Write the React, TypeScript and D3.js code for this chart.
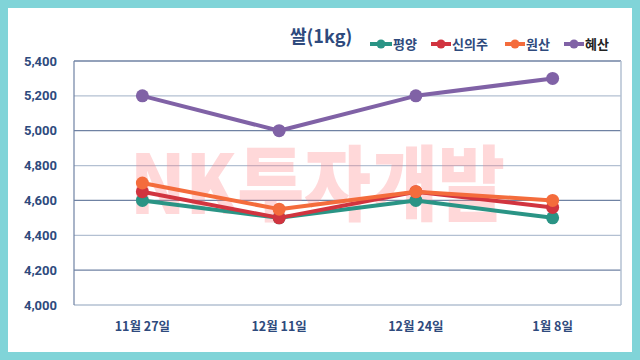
import React from "react";
import * as d3 from "d3";

const categories = ["11월 27일", "12월 11일", "12월 24일", "1월 8일"];
const seriesNames = ["평양", "신의주", "원산", "혜산"];
const pyongyang = [4600, 4500, 4600, 4500];
const sinuiju = [4650, 4500, 4650, 4560];
const wonsan = [4700, 4550, 4650, 4600];
const hyesan = [5200, 5000, 5200, 5300];
const yTicks = [4000, 4200, 4400, 4600, 4800, 5000, 5200, 5400];
const colors = ["#2a9485", "#d1343f", "#f46c3c", "#8062a6"];
const title = "쌀(1kg)";
const watermark = "NK투자개발";

const W = 640, H = 360;
const plot = { left: 74, right: 621, top: 61, bottom: 305 };
const FONT = "Roboto, 'Noto Sans CJK KR', sans-serif";
const KFONT = "'Noto Sans CJK KR', Roboto, sans-serif";

export default function App() {
  const x = d3.scaleBand<string>().domain(categories).range([plot.left, plot.right]);
  const y = d3.scaleLinear().domain([4000, 5400]).range([plot.bottom, plot.top]);
  const allSeries = [pyongyang, sinuiju, wonsan, hyesan];
  const line = d3.line<number>()
    .x((_, i) => (x(categories[i]) as number) + x.bandwidth() / 2)
    .y((d) => y(d));
  const legendX = [370, 431, 505, 564];
  const legendW = [22, 20, 20, 20];
  return (
    <svg width={W} height={H} style={{ position: "absolute", left: 0, top: 0 }}>
      <rect x={0} y={0} width={W} height={H} fill="#80d4d8" />
      <rect x={8} y={8} width={624} height={344} fill="#ffffff" />
      {yTicks.map((t, i) => (
        <line key={t} x1={plot.left} x2={plot.right} y1={y(t)} y2={y(t)}
          stroke={i % 2 === 1 ? "#6f82a3" : "#b3c0d2"} strokeWidth={1.3} />
      ))}
      <line x1={plot.right} x2={plot.right} y1={plot.top} y2={plot.bottom} stroke="#b3c0d2" strokeWidth={1.5} />
      <line x1={plot.left} x2={plot.left} y1={plot.top} y2={plot.bottom} stroke="#6f82a3" strokeWidth={1.2} />
      <text x={130} y={214} textLength={375} lengthAdjust="spacingAndGlyphs" fontFamily={KFONT}
        fontWeight="900" fontSize={82} fill="#ff7f85" opacity={0.3}>{watermark}</text>
      {yTicks.map((t) => (
        <text key={t} x={57} y={y(t)} dy="0.35em" textAnchor="end" fontFamily={FONT}
          fontWeight="bold" fontSize={13} fill="#2e4a7d">{d3.format(",")(t)}</text>
      ))}
      {categories.map((c) => (
        <text key={c} x={(x(c) as number) + x.bandwidth() / 2} y={327} dy="0.35em" textAnchor="middle"
          fontFamily={KFONT} fontWeight="bold" fontSize={12.5} fill="#2e4a7d">{c}</text>
      ))}
      {allSeries.map((s, si) => (
        <g key={si}>
          <path d={line(s) || ""} fill="none" stroke={colors[si]} strokeWidth={4} strokeLinejoin="round" />
          {s.map((v, i) => (
            <circle key={i} cx={(x(categories[i]) as number) + x.bandwidth() / 2} cy={y(v)} r={6.5} fill={colors[si]} />
          ))}
        </g>
      ))}
      <text x={290} y={43} fontFamily={KFONT} fontWeight="bold" fontSize={18} fill="#2e4a7d">{title}</text>
      {seriesNames.map((n, i) => (
        <g key={n}>
          <line x1={legendX[i]} x2={legendX[i] + legendW[i]} y1={44} y2={44} stroke={colors[i]} strokeWidth={4} />
          <circle cx={legendX[i] + legendW[i] / 2} cy={44} r={4.5} fill={colors[i]} />
          <text x={legendX[i] + legendW[i] + 1} y={44} dy="0.35em" fontFamily={KFONT} fontWeight="bold"
            fontSize={13} fill={i === 3 ? "#222222" : "#2e4a7d"}>{n}</text>
        </g>
      ))}
    </svg>
  );
}
